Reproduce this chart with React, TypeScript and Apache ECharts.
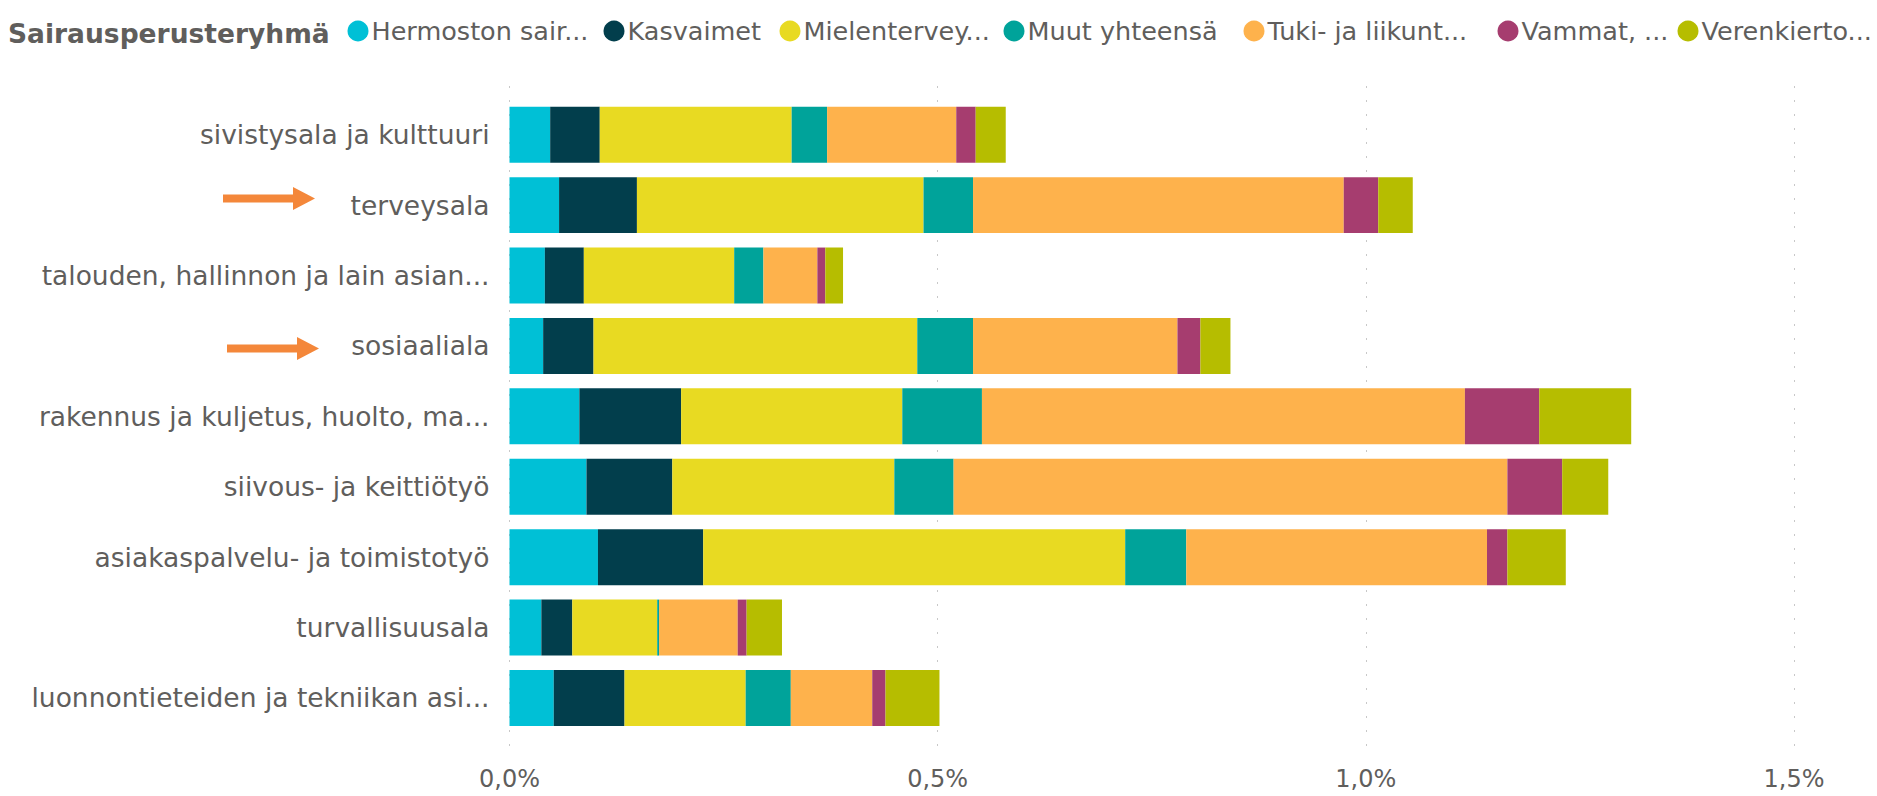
import React, { useEffect, useRef } from "react";
import * as echarts from "echarts";

const categories = [
  "sivistysala ja kulttuuri",
  "terveysala",
  "talouden, hallinnon ja lain asian...",
  "sosiaaliala",
  "rakennus ja kuljetus, huolto, ma...",
  "siivous- ja keittiötyö",
  "asiakaspalvelu- ja toimistotyö",
  "turvallisuusala",
  "luonnontieteiden ja tekniikan asi...",
];

const seriesNames = [
  "Hermoston sair...",
  "Kasvaimet",
  "Mielentervey...",
  "Muut yhteensä",
  "Tuki- ja liikunt...",
  "Vammat, ...",
  "Verenkierto...",
];

const hermoston = [0.0475, 0.0579, 0.0413, 0.0393, 0.0816, 0.0899, 0.1033, 0.0372, 0.0517];
const kasvaimet = [0.0579, 0.0909, 0.0455, 0.0588, 0.1188, 0.1002, 0.1229, 0.0361, 0.0826];
const mielenterveys = [0.2241, 0.3347, 0.1756, 0.3781, 0.2583, 0.2593, 0.4928, 0.0992, 0.1415];
const muut = [0.0414, 0.0578, 0.0341, 0.0651, 0.093, 0.0692, 0.0713, 0.0021, 0.0527];
const tuki = [0.1508, 0.4329, 0.063, 0.2387, 0.564, 0.6467, 0.3512, 0.0919, 0.0951];
const vammat = [0.0227, 0.0403, 0.0093, 0.0268, 0.0868, 0.064, 0.0238, 0.0104, 0.0155];
const verenkierto = [0.0351, 0.0403, 0.0207, 0.0351, 0.1074, 0.0538, 0.0682, 0.0413, 0.063];

const seriesValues = [hermoston, kasvaimet, mielenterveys, muut, tuki, vammat, verenkierto];

const colors = ["#00C0D6", "#023E4C", "#E8DA22", "#00A39A", "#FEB24C", "#A63D6F", "#B6BD00"];

const xTicks = [0, 0.5, 1.0, 1.5];

const FONT = "'DejaVu Sans', Verdana, sans-serif";
const TEXT = "#605E5C";

const legendCenters = [358, 614, 790, 1014, 1254, 1508, 1688];

function arrow(x0: number, yc: number) {
  const shaftEnd = x0 + 70;
  const tip = x0 + 92;
  return {
    type: "polygon",
    shape: {
      points: [
        [x0, yc - 4],
        [shaftEnd, yc - 4],
        [shaftEnd, yc - 11.5],
        [tip, yc],
        [shaftEnd, yc + 11.5],
        [shaftEnd, yc + 4],
        [x0, yc + 4],
      ],
    },
    style: { fill: "#F4873A" },
    z: 10,
  };
}

export default function App() {
  const ref = useRef<HTMLDivElement>(null);
  useEffect(() => {
    if (!ref.current) return;
    const chart = echarts.init(ref.current, undefined, { renderer: "svg" });
    const option: any = {
      animation: false,
      title: {
        text: "Sairausperusteryhmä",
        left: 8,
        top: 20,
        padding: 0,
        textStyle: { fontFamily: FONT, fontWeight: "bold", fontSize: 26.5, color: TEXT },
      },
      legend: seriesNames.map((name, i) => ({
        data: [name],
        left: legendCenters[i] - 10.5,
        top: 18,
        padding: 0,
        icon: "circle",
        itemWidth: 21,
        itemHeight: 21,
        selectedMode: false,
        textStyle: { fontFamily: FONT, fontSize: 25.5, color: TEXT, padding: [0, 0, 0, -2] },
      })),
      grid: [
        { left: 509.5, right: 83, top: 99.5, height: 633.7, containLabel: false },
        { left: 509.5, right: 83, top: 86, bottom: 43, containLabel: false },
      ],
      xAxis: [
        { gridIndex: 0, type: "value", min: 0, max: 1.5, show: false },
        {
          gridIndex: 1,
          type: "value",
          min: xTicks[0],
          max: xTicks[xTicks.length - 1],
          interval: 0.5,
          axisLine: { show: false },
          axisTick: { show: false },
          splitLine: { show: true, lineStyle: { color: "#C8C8C8", width: 1, type: [2, 12] } },
          axisLabel: {
            margin: 15,
            fontFamily: FONT,
            fontSize: 24,
            lineHeight: 22,
            color: TEXT,
            formatter: (v: number) => v.toFixed(1).replace(".", ",") + "%",
          },
        },
      ],
      yAxis: [
        {
          gridIndex: 0,
          type: "category",
          data: categories,
          inverse: true,
          axisLine: { show: false },
          axisTick: { show: false },
          splitLine: { show: false },
          axisLabel: { margin: 20, fontFamily: FONT, fontSize: 26.5, color: TEXT },
        },
        { gridIndex: 1, type: "value", min: 0, max: 1, show: false },
      ],
      series: seriesNames.map((name, i) => ({
        type: "bar",
        name,
        stack: "total",
        xAxisIndex: 0,
        yAxisIndex: 0,
        data: seriesValues[i],
        barCategoryGap: "20.5%",
        itemStyle: { color: colors[i] },
        emphasis: { disabled: true },
      })),
      graphic: [arrow(223, 198.5), arrow(227, 348.5)],
    };
    chart.setOption(option);
    return () => chart.dispose();
  }, []);
  return (
    <div
      ref={ref}
      style={{ position: "absolute", left: 0, top: 0, width: 1877, height: 796, background: "#fff" }}
    />
  );
}
